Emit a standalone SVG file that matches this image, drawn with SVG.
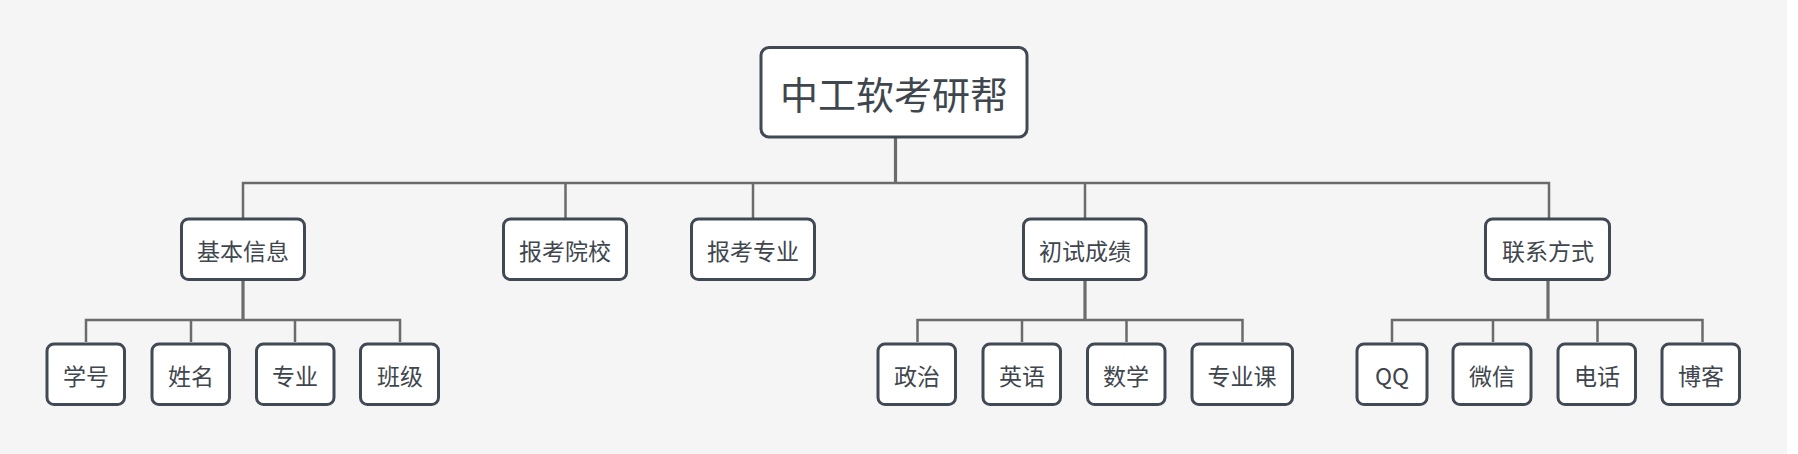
<svg xmlns="http://www.w3.org/2000/svg" width="1798" height="454" viewBox="0 0 1798 454">
<style>
.bg{fill:#f5f5f5}
.box{fill:#ffffff;stroke:#414a54;stroke-width:3}
.t{font-family:"Noto Sans CJK SC","Noto Sans",sans-serif;fill:#40464d;text-anchor:middle}
.t1{font-size:23px}
.t0{font-size:38px}
.ln{fill:none;stroke:#6b6b6b;stroke-width:2.5}
.tr{fill:none;stroke:#6b6b6b;stroke-width:3.2}
</style>
<rect x="0" y="0" width="1798" height="454" fill="#ffffff"/>
<rect class="bg" x="0" y="0" width="1787" height="454"/>
<g id="connectors">
<path class="tr" d="M895.5 138V183"/>
<path class="ln" d="M243 218V183H1549V218M565.5 183V218M753 183V218M1085 183V218"/>
<path class="tr" d="M243 281V320"/>
<path class="ln" d="M86 342V320H400V342M191 320V342M295 320V342"/>
<path class="tr" d="M1085 281V320"/>
<path class="ln" d="M917.5 342V320H1242.5V342M1022 320V342M1126.5 320V342"/>
<path class="tr" d="M1548 281V320"/>
<path class="ln" d="M1392 342V320H1702.5V342M1493 320V342M1597.5 320V342"/>
</g>
<g id="root"><rect class="box" x="761" y="47.5" width="266" height="89.5" rx="8"/><text class="t t0" x="894" y="108.5">中工软考研帮</text></g>
<g id="n-jbxx"><rect class="box" x="181.5" y="219" width="123" height="60.5" rx="7"/><text class="t t1" x="243" y="260">基本信息</text></g>
<g id="n-bkyx"><rect class="box" x="503.5" y="219" width="123" height="60.5" rx="7"/><text class="t t1" x="565" y="260">报考院校</text></g>
<g id="n-bkzy"><rect class="box" x="691.5" y="219" width="123" height="60.5" rx="7"/><text class="t t1" x="753" y="260">报考专业</text></g>
<g id="n-cscj"><rect class="box" x="1023.5" y="219" width="122.5" height="60.5" rx="7"/><text class="t t1" x="1085" y="260">初试成绩</text></g>
<g id="n-lxfs"><rect class="box" x="1485.5" y="219" width="124" height="60.5" rx="7"/><text class="t t1" x="1548" y="260">联系方式</text></g>
<g id="n-xh"><rect class="box" x="47" y="344" width="77.5" height="60.5" rx="7"/><text class="t t1" x="86" y="385">学号</text></g>
<g id="n-xm"><rect class="box" x="152" y="344" width="77.5" height="60.5" rx="7"/><text class="t t1" x="191" y="385">姓名</text></g>
<g id="n-zy"><rect class="box" x="256.5" y="344" width="77.5" height="60.5" rx="7"/><text class="t t1" x="295" y="385">专业</text></g>
<g id="n-bj"><rect class="box" x="360.5" y="344" width="78" height="60.5" rx="7"/><text class="t t1" x="400" y="385">班级</text></g>
<g id="n-zz"><rect class="box" x="878" y="344" width="77.5" height="60.5" rx="7"/><text class="t t1" x="917" y="385">政治</text></g>
<g id="n-yy"><rect class="box" x="983" y="344" width="77.5" height="60.5" rx="7"/><text class="t t1" x="1022" y="385">英语</text></g>
<g id="n-sx"><rect class="box" x="1087.5" y="344" width="77.5" height="60.5" rx="7"/><text class="t t1" x="1126" y="385">数学</text></g>
<g id="n-zyk"><rect class="box" x="1192" y="344" width="100.5" height="60.5" rx="7"/><text class="t t1" x="1242" y="385">专业课</text></g>
<g id="n-qq"><rect class="box" x="1357" y="344" width="70" height="60.5" rx="7"/><text class="t t1" x="1392" y="385">QQ</text></g>
<g id="n-wx"><rect class="box" x="1453" y="344" width="78" height="60.5" rx="7"/><text class="t t1" x="1492" y="385">微信</text></g>
<g id="n-dh"><rect class="box" x="1558" y="344" width="77.5" height="60.5" rx="7"/><text class="t t1" x="1597" y="385">电话</text></g>
<g id="n-bk"><rect class="box" x="1662" y="344" width="77.5" height="60.5" rx="7"/><text class="t t1" x="1701" y="385">博客</text></g>
</svg>
